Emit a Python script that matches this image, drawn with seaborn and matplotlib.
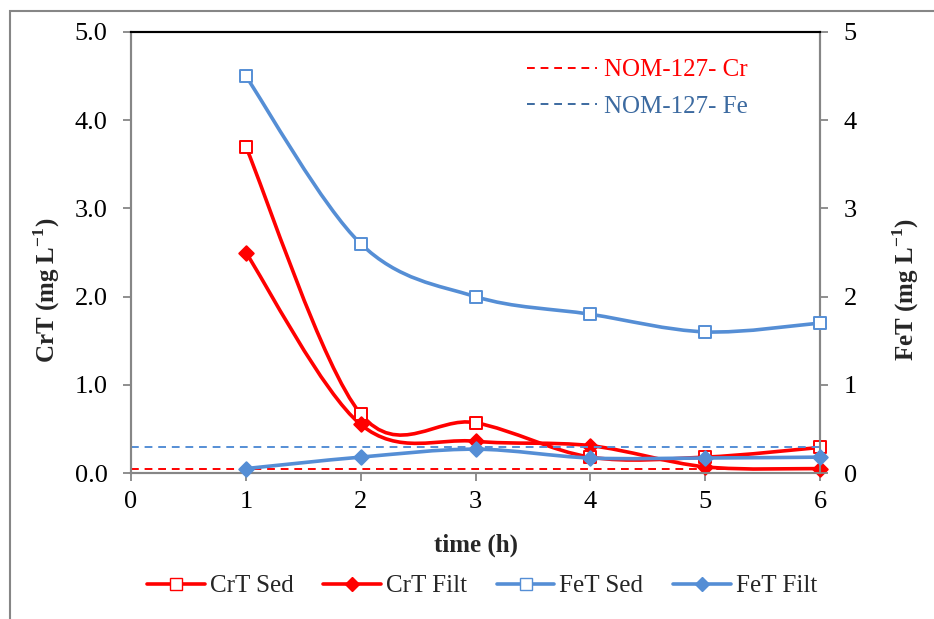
import matplotlib
matplotlib.use("Agg")
import matplotlib.pyplot as plt
import numpy as np
import seaborn as sns
from matplotlib.path import Path
from matplotlib.patches import PathPatch, Rectangle
from matplotlib.lines import Line2D

# values
time_h = [1, 2, 3, 4, 5, 6]
crt_sed = [3.70, 0.67, 0.57, 0.18, 0.18, 0.29]
crt_filt = [2.50, 0.55, 0.36, 0.31, 0.07, 0.05]
fet_sed = [4.5, 2.6, 2.0, 1.8, 1.6, 1.7]
fet_filt = [0.05, 0.18, 0.27, 0.17, 0.17, 0.18]
nom_cr = 0.05
nom_fe = 0.3

red = "#FF0000"
blue = "#558ED5"
dark_blue = "#3C6AA0"
gray = "#868686"

sns.set_style("ticks")
plt.rcParams["font.family"] = ["Liberation Serif", "DejaVu Serif"]
plt.rcParams["mathtext.fontset"] = "custom"
plt.rcParams["mathtext.rm"] = "Liberation Serif"
plt.rcParams["mathtext.bf"] = "Liberation Serif:bold"


def smooth_path(x, y):
    # Excel-style smoothed line: Catmull-Rom segments as cubic Bezier curves
    pts = np.column_stack([x, y]).astype(float)
    ext = np.vstack([pts[0], pts, pts[-1]])
    verts = [pts[0]]
    codes = [Path.MOVETO]
    for i in range(len(pts) - 1):
        p0, p1, p2, p3 = ext[i], ext[i + 1], ext[i + 2], ext[i + 3]
        verts += [p1 + (p2 - p0) / 6, p2 - (p3 - p1) / 6, p2]
        codes += [Path.CURVE4] * 3
    return Path(verts, codes)


fig = plt.figure(figsize=(9.34, 6.19), dpi=100)
ax = fig.add_axes([131 / 934, 1 - 473 / 619, (820 - 131) / 934, (473 - 32) / 619])
ax2 = ax.twinx()

# outer chart frame
fig.patches.append(Rectangle((10 / 934, -0.1), 1.2, 1.1 - 11 / 619,
                             transform=fig.transFigure, fill=False,
                             edgecolor=gray, linewidth=1.5))

# reference limits
ax.axhline(nom_cr, color=red, linestyle=(0, (4, 3)), linewidth=1.4, zorder=1)
ax2.axhline(nom_fe, color=blue, linestyle=(0, (4, 3)), linewidth=1.4, zorder=1)

for axis, series, color, marker, face in [
    (ax, crt_sed, red, "s", "white"),
    (ax, crt_filt, red, "D", red),
    (ax2, fet_sed, blue, "s", "white"),
    (ax2, fet_filt, blue, "D", blue),
]:
    axis.add_patch(PathPatch(smooth_path(time_h, series), fill=False,
                             edgecolor=color, linewidth=2.6, zorder=2,
                             capstyle="round", joinstyle="round"))
    sns.scatterplot(x=time_h, y=series, ax=axis, marker=marker,
                    s=80 if marker == "s" else 55, color=face,
                    edgecolor=color, linewidth=1.4, zorder=3, legend=False,
                    clip_on=False)

ax.set_xlim(0, 6)
ax.set_ylim(0, 5)
ax2.set_ylim(0, 5)
ax.set_xticks(range(0, 7))
ax.set_yticks(np.arange(0, 5.01, 1.0))
ax.set_yticklabels([f"{v:.1f}" for v in np.arange(0, 5.01, 1.0)])
ax2.set_yticks(range(0, 6))

for a in (ax, ax2):
    for side in ("left", "right", "bottom"):
        a.spines[side].set_color(gray)
        a.spines[side].set_linewidth(1.5)
    a.spines["top"].set_color("black")
    a.spines["top"].set_linewidth(1.5)
    a.tick_params(axis="both", colors=gray, labelcolor="black",
                  labelsize=19, length=6, width=1.3, direction="out", pad=7)
    a.tick_params(axis="y", pad=11)

ax.set_xlabel("time (h)", fontsize=18, fontweight="bold", labelpad=15)
ax.set_ylabel(r"CrT (mg L$^{\mathbf{-1}}$)", fontsize=18, fontweight="bold", labelpad=9)
ax2.set_ylabel(r"FeT (mg L$^{\mathbf{-1}}$)", fontsize=18, fontweight="bold",
               labelpad=24, rotation=90)
ax.yaxis.label.set_y(0.415)
ax2.yaxis.label.set_y(0.415)

# bottom legend
handles = [
    Line2D([], [], color=red, lw=2.6, marker="s", markersize=8,
           markerfacecolor="white", markeredgecolor=red),
    Line2D([], [], color=red, lw=2.6, marker="D", markersize=7,
           markerfacecolor=red, markeredgecolor=red),
    Line2D([], [], color=blue, lw=2.6, marker="s", markersize=8,
           markerfacecolor="white", markeredgecolor=blue),
    Line2D([], [], color=blue, lw=2.6, marker="D", markersize=7,
           markerfacecolor=blue, markeredgecolor=blue),
]
fig.legend(handles, ["CrT Sed", "CrT Filt", "FeT Sed", "FeT Filt"],
           loc="center", bbox_to_anchor=(482 / 934, 1 - 586 / 619), ncol=4,
           frameon=False, fontsize=18, handlelength=2.3, handletextpad=0.2,
           columnspacing=1.2)

# limit labels
nom_handles = [
    Line2D([], [], color=red, lw=1.4, linestyle=(0, (4, 3))),
    Line2D([], [], color=dark_blue, lw=1.4, linestyle=(0, (4, 3))),
]
ax2.legend(nom_handles, ["NOM-127- Cr", "NOM-127- Fe"], loc="upper left",
           bbox_to_anchor=(0.542, 0.99), frameon=False, fontsize=18,
           handlelength=2.8, handletextpad=0.3, labelcolor=[red, dark_blue],
           labelspacing=0.55)

fig.savefig("out.png", dpi=100)
